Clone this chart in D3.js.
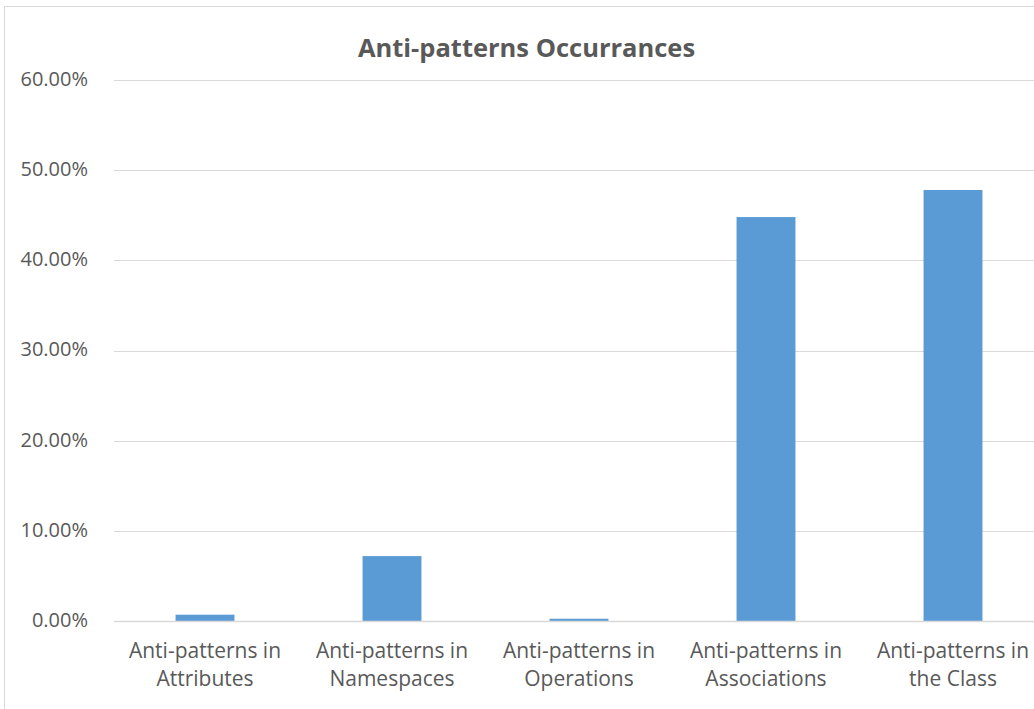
<!DOCTYPE html>
<html><head><meta charset="utf-8">
<script src="https://cdn.jsdelivr.net/npm/d3@7/dist/d3.min.js"></script>
<style>body{margin:0;background:#fff;}svg{display:block;font-family:"Open Sans","Noto Sans",sans-serif;}</style>
</head><body>
<svg id="c" width="1034" height="709"></svg>
<script>
const categories = [
  ["Anti-patterns in", "Attributes"],
  ["Anti-patterns in", "Namespaces"],
  ["Anti-patterns in", "Operations"],
  ["Anti-patterns in", "Associations"],
  ["Anti-patterns in", "the Class"]
];
const values = [0.007, 0.072, 0.0025, 0.448, 0.478];
const yTicks = [0, 0.1, 0.2, 0.3, 0.4, 0.5, 0.6];
const title = "Anti-patterns Occurrances";

(function () {
const svg = d3.select("#c");
const W = 1034, H = 709;
// chart frame
svg.append("rect").attr("x", 4.5).attr("y", 6.5).attr("width", 1100).attr("height", 800)
  .attr("fill", "#fff").attr("stroke", "#d9d9d9").attr("stroke-width", 1);

const mLeft = 111.5, mRight = 1046.5, mTop = 80, mBottom = 621;
const x = d3.scaleBand().domain(d3.range(categories.length)).range([mLeft, mRight]).paddingInner(0.685).paddingOuter(0.3425);
const y = d3.scaleLinear().domain([0, 0.6]).range([mBottom, mTop]);

// gridlines
svg.append("g").selectAll("line").data(yTicks).join("line")
  .attr("x1", 114).attr("x2", W + 20)
  .attr("y1", d => Math.round(y(d)) + 0.5).attr("y2", d => Math.round(y(d)) + 0.5)
  .attr("stroke", "#d9d9d9").attr("stroke-width", 1.2);

// y axis labels
const fmt = d3.format(".2%");
const yAxis = d3.axisLeft(y).tickValues(yTicks).tickFormat(fmt).tickSize(0).tickPadding(0);
const ya = svg.append("g").attr("transform", `translate(88,-1)`).call(yAxis);
ya.select(".domain").remove();
ya.selectAll("text").attr("fill", "#595959").style("font-size", "20px").style("font-family", "'Open Sans','Noto Sans',sans-serif");

// bars
svg.append("g").selectAll("rect").data(values).join("rect")
  .attr("x", (d, i) => x(i)).attr("width", x.bandwidth())
  .attr("y", d => y(d)).attr("height", d => mBottom - y(d))
  .attr("fill", "#5b9bd5");

// baseline
svg.append("line").attr("x1", 114).attr("x2", W + 20).attr("y1", mBottom + 0.5).attr("y2", mBottom + 0.5)
  .attr("stroke", "#d9d9d9").attr("stroke-width", 1.4);

// x labels
const xl = svg.append("g").selectAll("text").data(categories).join("text")
  .attr("text-anchor", "middle").attr("fill", "#595959").style("font-size", "21px");
xl.each(function(d, i) {
  const t = d3.select(this);
  d.forEach((line, j) => {
    t.append("tspan").attr("x", x(i) + x.bandwidth() / 2).attr("y", 658 + j * 28).text(line);
  });
});

// title
svg.append("text").attr("x", 526.5).attr("y", 57).attr("text-anchor", "middle")
  .attr("fill", "#595959").style("font-size", "25.5px").style("font-weight", "bold").text(title);
})();
</script>
</body></html>
